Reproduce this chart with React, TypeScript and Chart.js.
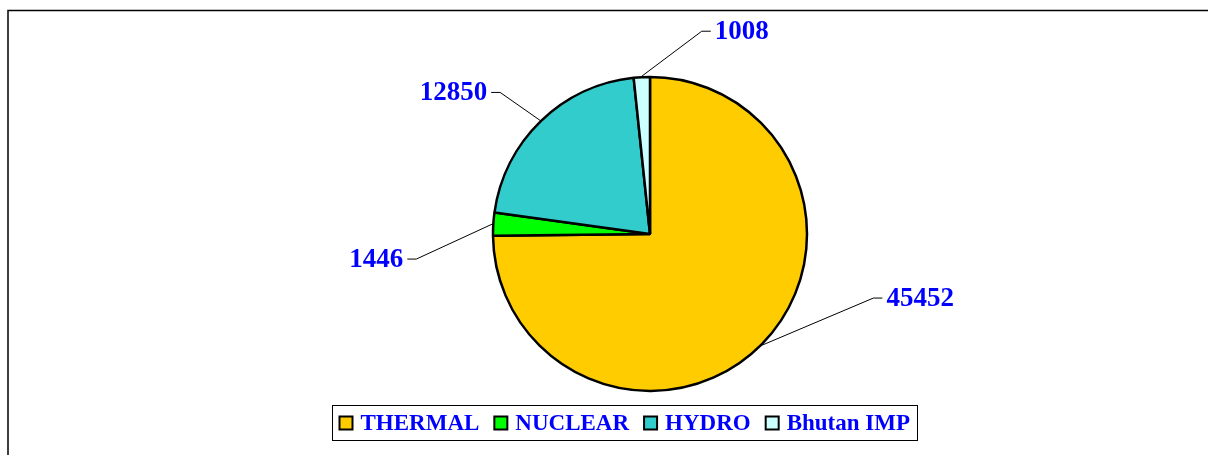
import React, { useEffect, useRef } from "react";
import { Chart, registerables } from "chart.js";

Chart.register(...registerables);

const categories = ["THERMAL", "NUCLEAR", "HYDRO", "Bhutan IMP"];
const values = [45452, 1446, 12850, 1008];
const colors = ["#FFCC00", "#00FF00", "#33CCCC", "#CCFFFF"];
// leader-line elbow offsets from the slice's outer mid point (layout only)
const labelOffsets = [
  [111, -47],
  [-76, 35],
  [-40, -28],
  [60, -45],
];

const labelPlugin = {
  id: "leaderLabels",
  beforeDraw(chart: any) {
    const ctx = chart.ctx;
    ctx.save();
    ctx.strokeStyle = "#000";
    ctx.lineWidth = 1.5;
    ctx.beginPath();
    ctx.moveTo(8, 1000);
    ctx.lineTo(8, 10.5);
    ctx.lineTo(1300, 10.5);
    ctx.stroke();
    ctx.restore();
  },
  afterDraw(chart: any) {
    const ctx = chart.ctx;
    const meta = chart.getDatasetMeta(0);
    ctx.save();
    ctx.font = "bold 27px 'Liberation Serif'";
    ctx.textBaseline = "middle";
    meta.data.forEach((arc: any, i: number) => {
      const { x, y, startAngle, endAngle, outerRadius } = arc.getProps(
        ["x", "y", "startAngle", "endAngle", "outerRadius"],
        true
      );
      const mid = (startAngle + endAngle) / 2;
      const r = outerRadius + 1;
      const ax = x + Math.cos(mid) * r;
      const ay = y + Math.sin(mid) * r;
      const [dx, dy] = labelOffsets[i];
      const ex = ax + dx;
      const ey = ay + dy;
      const dir = dx >= 0 ? 1 : -1;
      ctx.strokeStyle = "#000";
      ctx.lineWidth = 1;
      ctx.beginPath();
      ctx.moveTo(ax, ay);
      ctx.lineTo(ex, ey);
      ctx.lineTo(ex + dir * 9, ey);
      ctx.stroke();
      ctx.fillStyle = "#0000FF";
      ctx.textAlign = dir > 0 ? "left" : "right";
      ctx.fillText(String(values[i]), ex + dir * 13, ey + 1);
    });

    // legend
    ctx.font = "bold 23px 'Liberation Serif'";
    const sq = 13;
    const gapText = 8;
    const gapItem = 15;
    const pad = 7;
    const widths = categories.map((c) => ctx.measureText(c).width);
    let total = pad * 2;
    widths.forEach((w, i) => {
      total += sq + gapText + w + (i < widths.length - 1 ? gapItem : 0);
    });
    const cx = 624.5;
    const top = 405;
    const h = 35;
    const left = Math.round(cx - total / 2) + 0.5;
    ctx.strokeStyle = "#000";
    ctx.lineWidth = 1;
    ctx.strokeRect(left, top + 0.5, Math.round(total), h);
    let px = left + pad;
    const cy = top + h / 2 + 0.5;
    categories.forEach((c, i) => {
      ctx.fillStyle = colors[i];
      ctx.fillRect(px, cy - sq / 2, sq, sq);
      ctx.lineWidth = 2;
      ctx.strokeStyle = "#000";
      ctx.strokeRect(px, cy - sq / 2, sq, sq);
      ctx.fillStyle = "#0000FF";
      ctx.textAlign = "left";
      ctx.textBaseline = "middle";
      ctx.fillText(c, px + sq + gapText, cy + 1);
      px += sq + gapText + widths[i] + gapItem;
    });
    ctx.restore();
  },
};

export default function App() {
  const ref = useRef<HTMLCanvasElement>(null);
  useEffect(() => {
    document.body.style.margin = "0";
    const chart = new Chart(ref.current!, {
      type: "pie",
      data: {
        labels: categories,
        datasets: [
          {
            data: values,
            backgroundColor: colors,
            borderColor: "#000",
            borderWidth: 2.5,
          },
        ],
      },
      options: {
        responsive: false,
        animation: false,
        radius: 157,
        layout: { padding: { left: 92, right: 0, top: 13, bottom: 0 } },
        plugins: {
          legend: { display: false },
          tooltip: { enabled: false },
        },
      } as any,
      plugins: [labelPlugin],
    });
    return () => chart.destroy();
  }, []);
  return (
    <div style={{ width: 1208, height: 455, background: "#fff" }}>
      <canvas ref={ref} width={1208} height={455} style={{ display: "block" }} />
    </div>
  );
}
